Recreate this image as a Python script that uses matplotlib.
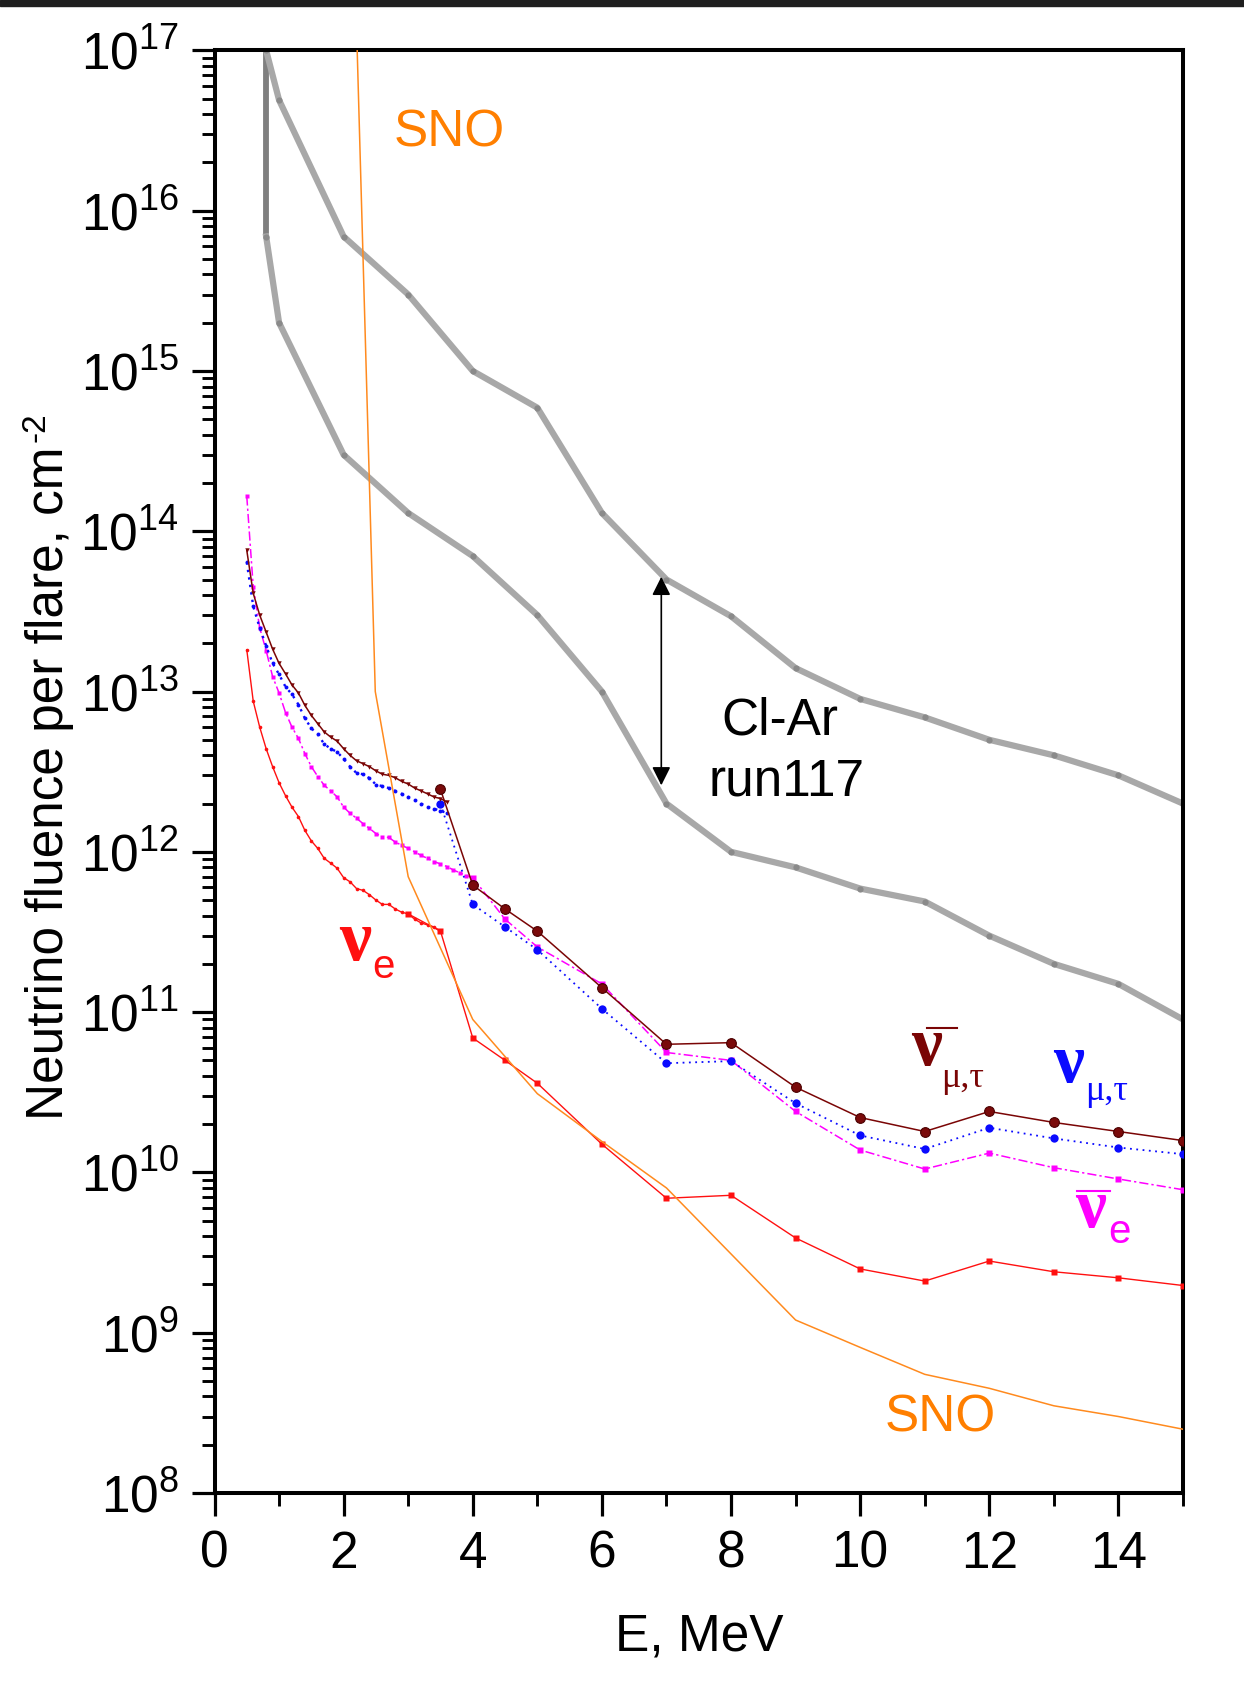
import numpy as np
import matplotlib
matplotlib.use("Agg")
import matplotlib.pyplot as plt
from matplotlib.lines import Line2D
from matplotlib.patches import Rectangle
from matplotlib.ticker import LogLocator, MultipleLocator, NullFormatter

plt.rcParams['font.family'] = ['Liberation Sans', 'DejaVu Sans']

# ---- data ----
# low-energy dense points
e_low_red = np.round(np.arange(0.5, 3.55, 0.1), 2)
nue_low = [1.82e13, 8.7e12, 6.0e12, 4.4e12, 3.4e12, 2.7e12, 2.24e12, 1.9e12, 1.66e12, 1.36e12,
           1.17e12, 1.05e12, 9.1e11, 8.5e11, 7.9e11, 6.9e11, 6.5e11, 5.9e11, 5.75e11, 5.4e11,
           5.0e11, 4.7e11, 4.7e11, 4.4e11, 4.2e11, 4.1e11, 3.8e11, 3.6e11, 3.5e11, 3.4e11, 3.2e11]

e_low_mt = np.round(np.arange(0.5, 3.65, 0.1), 2)
anumt_low = [7.6e13, 4.1e13, 3.0e13, 2.35e13, 1.84e13, 1.5e13, 1.29e13, 1.1e13, 9.8e12, 8.2e12,
             7.1e12, 6.3e12, 5.6e12, 5.2e12, 4.9e12, 4.4e12, 4.0e12, 3.7e12, 3.55e12, 3.4e12,
             3.2e12, 3.05e12, 3.0e12, 2.9e12, 2.75e12, 2.65e12, 2.5e12, 2.4e12, 2.3e12, 2.2e12,
             2.15e12, 2.05e12]
numt_low = [6.4e13, 3.4e13, 2.5e13, 1.93e13, 1.5e13, 1.28e13, 1.07e13, 9.6e12, 8.3e12, 6.8e12,
            5.9e12, 5.4e12, 4.7e12, 4.4e12, 4.2e12, 3.8e12, 3.4e12, 3.1e12, 3.05e12, 2.88e12,
            2.63e12, 2.57e12, 2.5e12, 2.4e12, 2.3e12, 2.2e12, 2.1e12, 2.0e12, 1.9e12, 1.86e12,
            1.8e12, 1.75e12]

e_low_ae = np.round(np.arange(0.5, 4.05, 0.1), 2)
anue_low = [1.65e14, 4.5e13, 2.5e13, 1.8e13, 1.24e13, 9.8e12, 7.4e12, 6.0e12, 5.1e12, 4.1e12,
            3.4e12, 2.95e12, 2.6e12, 2.4e12, 2.2e12, 1.9e12, 1.74e12, 1.62e12, 1.5e12, 1.4e12,
            1.3e12, 1.24e12, 1.23e12, 1.15e12, 1.1e12, 1.05e12, 1.0e12, 9.5e11, 9.1e11, 8.7e11,
            8.4e11, 8.1e11, 7.7e11, 7.4e11, 7.1e11, 6.9e11]

# high-energy points
e_hi_red = [3, 3.5, 4, 4.5, 5, 6, 7, 8, 9, 10, 11, 12, 13, 14, 15]
nue_hi = [4.1e11, 3.2e11, 6.9e10, 5.0e10, 3.6e10, 1.5e10, 6.9e9, 7.2e9, 3.9e9, 2.5e9,
          2.1e9, 2.8e9, 2.4e9, 2.2e9, 1.97e9]

e_hi_mt = [3.5, 4, 4.5, 5, 6, 7, 8, 9, 10, 11, 12, 13, 14, 15]
anumt_hi = [2.45e12, 6.2e11, 4.4e11, 3.2e11, 1.42e11, 6.3e10, 6.45e10, 3.4e10, 2.2e10, 1.8e10,
            2.4e10, 2.05e10, 1.8e10, 1.58e10]
numt_hi = [2.0e12, 4.7e11, 3.4e11, 2.45e11, 1.05e11, 4.8e10, 4.95e10, 2.7e10, 1.7e10, 1.4e10,
           1.9e10, 1.63e10, 1.43e10, 1.3e10]

e_hi_ae = [4, 4.5, 5, 6, 7, 8, 9, 10, 11, 12, 13, 14, 15]
anue_hi = [6.9e11, 3.8e11, 2.55e11, 1.5e11, 5.6e10, 5.0e10, 2.4e10, 1.38e10, 1.05e10, 1.32e10,
           1.07e10, 9.1e9, 7.8e9]

# Cl-Ar run117 band
e_clar = [0.8, 1, 2, 3, 4, 5, 6, 7, 8, 9, 10, 11, 12, 13, 14, 15]
clar_upper = [1e17, 4.9e16, 6.9e15, 3.0e15, 1.0e15, 5.9e14, 1.3e14, 5.0e13, 2.95e13, 1.4e13,
              9e12, 6.9e12, 5e12, 4e12, 3e12, 2e12]
clar_lower = [6.9e15, 2e15, 3e14, 1.3e14, 7e13, 3e13, 1e13, 2e12, 1e12, 8e11,
              5.9e11, 4.9e11, 3e11, 2e11, 1.5e11, 9e10]

# SNO limit
e_sno = [2.21, 2.49, 3, 4, 5, 6, 7, 8, 9, 10, 11, 12, 13, 14, 15]
sno = [1e17, 1e13, 7e11, 9e10, 3.1e10, 1.56e10, 8e9, 3.1e9, 1.2e9, 8.1e8, 5.5e8, 4.5e8,
       3.5e8, 3e8, 2.5e8]

# ---- figure ----
W, H = 1244, 1682
fig = plt.figure(figsize=(W / 100, H / 100), dpi=100, facecolor='white')
ax = fig.add_axes([214.5 / W, 1 - 1493 / H, (1183 - 214.5) / W, (1493 - 50.4) / H])


def fpos(x, y):
    return x / W, 1 - y / H


# top dark strip of the screenshot
fig.add_artist(Rectangle((0, 1 - 6 / H), 1, 6 / H, transform=fig.transFigure,
                         color='#1f1f1f', zorder=10))

gray = '#a8a8a8'
ax.plot([e_clar[0], e_clar[0]], [clar_upper[0], clar_lower[0]], color='#7f7f7f', lw=4.2,
        solid_capstyle='round', zorder=2)
for ys in (clar_upper, clar_lower):
    ax.plot(e_clar, ys, color=gray, lw=4.5, marker='o', ms=4.5, mfc='#8a8a8a', mec='none',
            solid_joinstyle='round', zorder=2)

ax.annotate('', xy=(6.92, 5.2e13), xytext=(6.92, 2.6e12),
            arrowprops=dict(arrowstyle='<|-|>', color='black', lw=1.2,
                            mutation_scale=28, shrinkA=0, shrinkB=0), zorder=3)

red = '#ff1010'
ax.plot(e_low_red, nue_low, color=red, lw=1.0, marker='o', ms=2.6, mec='none', zorder=4)
ax.plot(e_hi_red, nue_hi, color=red, lw=1.0, marker='s', ms=5, mec='none', zorder=4)

mag = '#ff00ff'
ax.plot(e_low_ae, anue_low, color=mag, lw=1.1, ls=(0, (6, 2, 1.5, 2)), marker='s', ms=2.3,
        mec='none', zorder=5)
ax.plot(e_hi_ae, anue_hi, color=mag, lw=1.1, ls=(0, (6, 2, 1.5, 2)), marker='s', ms=5,
        mec='none', zorder=5)

blue = '#0a0aff'
ax.plot(e_low_mt, numt_low, color=blue, lw=1.7, ls=(0, (1, 2.2)), marker='o', ms=2.8,
        mec='none', zorder=6)
ax.plot(e_hi_mt, numt_hi, color=blue, lw=1.3, ls=(0, (1, 2.5)), marker='o', ms=6,
        mec='none', zorder=6)

brown = '#7a0505'
ax.plot(e_low_mt, anumt_low, color=brown, lw=1.1, marker='v', ms=3.2, mec='none', zorder=7)
ax.plot(e_hi_mt, anumt_hi, color=brown, lw=1.1, marker='o', ms=7, mfc='#7a0a0a',
        mec='#4a0000', mew=0.8, zorder=7)

ax.plot(e_sno, sno, color='#ff8a1e', lw=1.1, zorder=8)

# ---- axes styling ----
ax.set_xlim(0, 15)
ax.set_yscale('log')
ax.set_ylim(1e8, 1e17)
ax.xaxis.set_major_locator(MultipleLocator(2))
ax.xaxis.set_minor_locator(MultipleLocator(1))
ax.yaxis.set_major_locator(LogLocator(base=10, numticks=20))
ax.yaxis.set_minor_locator(LogLocator(base=10, subs=np.arange(2, 10), numticks=20))
ax.yaxis.set_minor_formatter(NullFormatter())
for sp in ax.spines.values():
    sp.set_linewidth(2.9)
ax.tick_params(which='major', direction='out', length=16.5, width=2.3, labelsize=37,
               top=False, right=False)
ax.tick_params(which='minor', direction='out', length=9.5, width=2.1, top=False, right=False)
ax.tick_params(axis='y', which='major', pad=9)
ax.tick_params(axis='x', which='major', pad=10)

fig.text(*fpos(699, 1637), 'E, MeV', fontsize=37, ha='center', va='center')
# y label: main text plus a small hyphen superscript, as in the original
fig.text(*fpos(50, 446), 'Neutrino fluence per flare, cm', fontsize=37,
         rotation=90, ha='center', va='top')
fig.text(*fpos(36, 442), '-2', fontsize=24, rotation=90, ha='center', va='bottom')

orange_txt = '#ff7f00'
fig.text(*fpos(449, 133), 'SNO', fontsize=37, color=orange_txt, ha='center', va='center')
fig.text(*fpos(940, 1418), 'SNO', fontsize=37, color=orange_txt, ha='center', va='center')
fig.text(*fpos(780, 721), 'Cl-Ar', fontsize=37, ha='center', va='center')
fig.text(*fpos(787, 782), 'run117', fontsize=37, ha='center', va='center')

serif = ['Liberation Serif', 'DejaVu Serif']
# nu_e
fig.text(*fpos(355, 960), 'ν', fontsize=52, family=serif, weight='bold', color=red,
         ha='center', va='baseline')
fig.text(*fpos(372, 978), 'e', fontsize=29, color=red, ha='left', va='baseline')
# anti nu_mu,tau
fig.text(*fpos(927, 1065), 'ν', fontsize=50, family=serif, weight='bold', color=brown,
         ha='center', va='baseline')
fig.text(*fpos(941, 1087), 'μ,τ', fontsize=26, family=serif, color=brown, ha='left',
         va='baseline')
fig.add_artist(Line2D([926.7 / W, 956.7 / W], [1 - 1028 / H] * 2, transform=fig.transFigure,
                      color=brown, lw=1.5))
# nu_mu,tau
fig.text(*fpos(1069, 1082), 'ν', fontsize=50, family=serif, weight='bold', color=blue,
         ha='center', va='baseline')
fig.text(*fpos(1085, 1100), 'μ,τ', fontsize=26, family=serif, color=blue, ha='left',
         va='baseline')
# anti nu_e
fig.text(*fpos(1091, 1227), 'ν', fontsize=50, family=serif, weight='bold', color=mag,
         ha='center', va='baseline')
fig.text(*fpos(1108, 1243), 'e', fontsize=29, color=mag, ha='left', va='baseline')
fig.add_artist(Line2D([1076.7 / W, 1110 / W], [1 - 1191 / H] * 2, transform=fig.transFigure,
                      color=mag, lw=1.5))

fig.savefig('out.png', dpi=100, facecolor='white')
